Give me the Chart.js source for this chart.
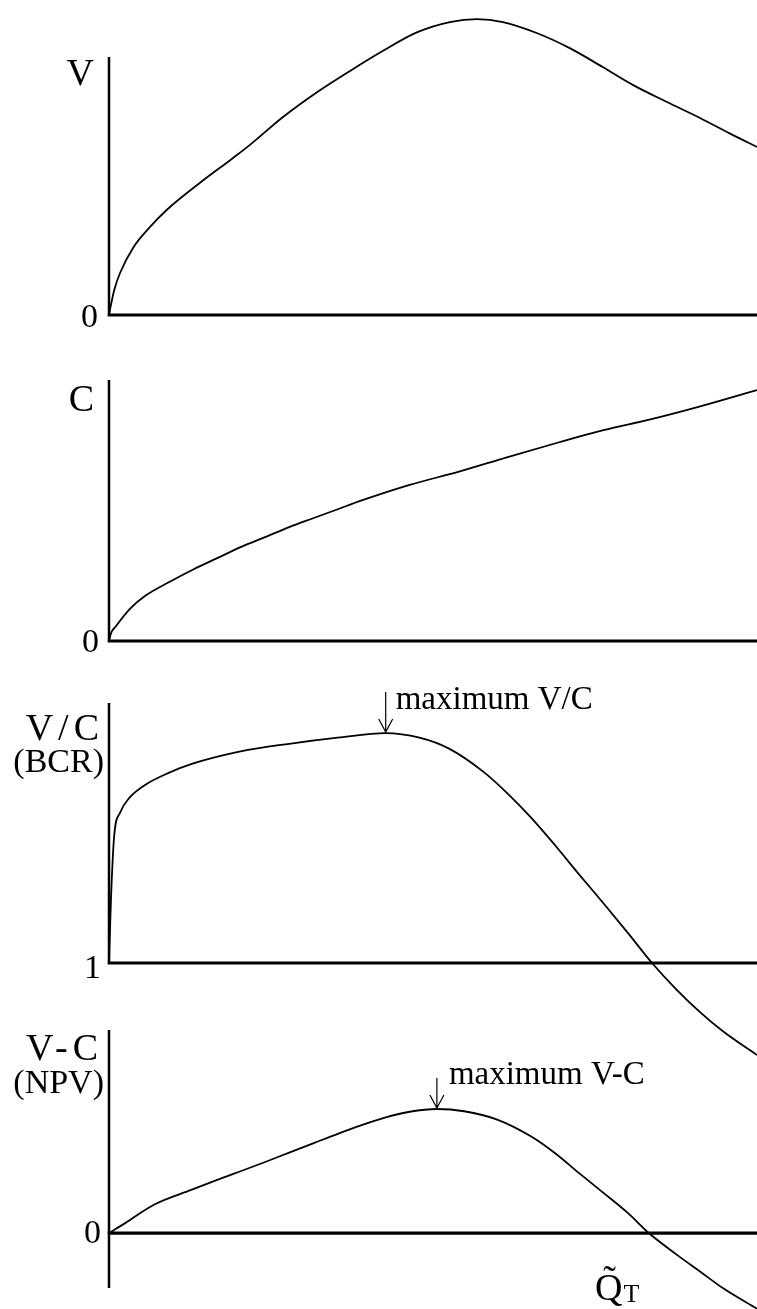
<!DOCTYPE html>
<html>
<head>
<meta charset="utf-8">
<script src="https://cdn.jsdelivr.net/npm/chart.js@4.4.1/dist/chart.umd.min.js"></script>
<style>
  html, body { margin: 0; padding: 0; background: #fff; }
  #stack { position: relative; width: 757px; height: 1309px; }
  #stack canvas { position: absolute; left: 0; top: 0; }
</style>
</head>
<body>
<div id="stack">
  <canvas id="chartV" width="757" height="1309"></canvas>
  <canvas id="chartC" width="757" height="1309"></canvas>
  <canvas id="chartBCR" width="757" height="1309"></canvas>
  <canvas id="chartNPV" width="757" height="1309"></canvas>
</div>
<script>
// Scheme size (0 = none, 100 = largest scheme considered)
// Benefit V
const xV = [0, 0.3, 0.8, 1.7, 3.8, 6.3, 8.9, 14.0, 19.1, 21.8, 26.9, 32.1, 37.2, 42.3, 47.5, 52.6, 56.8, 60.8, 66.0, 71.1, 76.2, 80.9, 86.1, 91.2, 96.3, 100];
const yV = [0, 3.4, 8.4, 14.2, 23.0, 29.7, 35.5, 44.6, 53.0, 57.6, 67.0, 75.3, 82.5, 89.3, 95.5, 99.0, 100, 99.0, 95.3, 90.2, 83.8, 77.7, 72.0, 66.6, 60.8, 56.8];

// Cost C
const xC = [0, 0.3, 1.1, 3.3, 5.6, 9.3, 13.0, 16.7, 20.4, 24.2, 27.9, 31.6, 35.3, 39.0, 46.4, 54.0, 61.4, 68.8, 76.3, 83.7, 91.1, 100];
const yC = [0, 3, 6, 13, 18, 23.5, 28.5, 33, 37.5, 41.5, 45.5, 49, 52.5, 56, 62.2, 67.5, 73.2, 78.7, 84.0, 88.4, 93.4, 100];

// Benefit-cost ratio V/C
const xBCR = [0, 0.3, 0.8, 1.7, 3.2, 5.5, 9.2, 12.9, 20.3, 27.8, 35.3, 42.7, 47.9, 52.4, 57.7, 61.4, 65.1, 68.8, 72.5, 76.4, 80.1, 83.8, 87.5, 91.2, 94.9, 100];
const yBCR = [1.00, 1.41, 1.83, 1.98, 2.08, 2.16, 2.24, 2.30, 2.38, 2.43, 2.47, 2.50, 2.47, 2.40, 2.25, 2.11, 1.95, 1.77, 1.58, 1.385, 1.195, 1.00, 0.83, 0.68, 0.55, 0.40];

// Net present value V-C
const xNPV = [0, 2.5, 7.0, 12.8, 16.5, 20.4, 24.2, 27.9, 31.6, 35.3, 39.0, 42.7, 46.4, 50.6, 54.8, 59.9, 65.1, 68.8, 72.5, 76.4, 80.1, 83.3, 87.5, 91.2, 94.9, 100];
const yNPV = [0, 8, 23, 35, 42.5, 50, 57.5, 65, 72.5, 80, 87, 93.3, 97.8, 100, 98.2, 91.5, 78, 64.5, 48.5, 32, 16, 0, -17, -31, -45, -61];

// Axis titles, baseline tick labels and markers
const titlesV = ['V'];
const titlesC = ['C'];
const titlesBCR = ['V/C', '(BCR)'];
const titlesNPV = ['V-C', '(NPV)'];
const baseTicks = ['0', '0', '1', '0'];
const baseValues = [0, 0, 1, 0];
const maxNoteBCR = 'maximum V/C';
const maxNoteNPV = 'maximum V-C';

const SERIF = '"Liberation Serif", "Times New Roman", serif';

function pts(xs, ys) { return xs.map((x, i) => ({ x: x, y: ys[i] })); }

// Draws the hand-sketched axes, titles, baseline tick and "maximum" marker
const sketchAxes = {
  id: 'sketchAxes',
  beforeDatasetsDraw(chart, args, o) {
    const ctx = chart.ctx;
    const sx = chart.scales.x, sy = chart.scales.y;
    const ax = sx.getPixelForValue(0);
    const by = sy.getPixelForValue(o.base);
    ctx.save();
    ctx.strokeStyle = '#000';
    ctx.fillStyle = '#000';
    // vertical axis
    ctx.lineWidth = 2.5;
    ctx.beginPath();
    ctx.moveTo(ax, sy.getPixelForValue(o.axisTop));
    ctx.lineTo(ax, sy.getPixelForValue(o.axisLow) + 1);
    ctx.stroke();
    // horizontal axis through the baseline value
    ctx.lineWidth = 3.2;
    ctx.beginPath();
    ctx.moveTo(ax - 1.2, by);
    ctx.lineTo(sx.getPixelForValue(100), by);
    ctx.stroke();

    const topY = sy.getPixelForValue(o.axisTop);
    // titles to the left of the axis
    ctx.textAlign = 'right';
    ctx.textBaseline = 'alphabetic';
    o.titles.forEach((t) => {
      ctx.font = t.size + 'px ' + SERIF;
      ctx.letterSpacing = (t.sp || 0) + 'px';
      ctx.fillText(t.text, ax - t.gap + (t.sp || 0), topY + t.dy);
    });
    ctx.letterSpacing = '0px';
    // baseline tick label
    ctx.font = '34px ' + SERIF;
    ctx.textBaseline = 'middle';
    ctx.fillText(o.tick, ax - o.tickGap, by + o.tickDy);

    // maximum marker: arrow down onto the highest point of the curve
    if (o.note) {
      const d = chart.data.datasets[0].data;
      let k = 0;
      d.forEach((p, i) => { if (p.y > d[k].y) k = i; });
      const px = sx.getPixelForValue(d[k].x);
      const tip = sy.getPixelForValue(d[k].y) - 1;
      ctx.lineWidth = 1.2;
      ctx.beginPath();
      ctx.moveTo(px, tip - o.arrowLen);
      ctx.lineTo(px, tip);
      ctx.moveTo(px - 7, tip - 13);
      ctx.lineTo(px, tip);
      ctx.lineTo(px + 7, tip - 13);
      ctx.stroke();
      ctx.textAlign = 'left';
      ctx.textBaseline = 'alphabetic';
      ctx.font = '33px ' + SERIF;
      ctx.fillText(o.note, px + o.noteGap, tip - o.noteRise);
    }

    // horizontal axis title (scheme size)
    if (o.xTitle) {
      const qx = sx.getPixelForValue(o.xTitle.at);
      ctx.textAlign = 'left';
      ctx.textBaseline = 'alphabetic';
      ctx.font = '38px ' + SERIF;
      ctx.fillText('Q\u0303', qx, 1300);
      const w = ctx.measureText('Q').width;
      ctx.font = '26px ' + SERIF;
      ctx.fillText('T', qx + w + 1, 1302);
    }
    ctx.restore();
  }
};

function makeChart(id, xs, ys, frame, axes) {
  new Chart(document.getElementById(id), {
    type: 'line',
    data: {
      datasets: [{
        data: pts(xs, ys),
        borderColor: '#000',
        borderWidth: 1.8,
        pointRadius: 0,
        fill: false,
        cubicInterpolationMode: 'monotone',
        clip: false
      }]
    },
    options: {
      responsive: false,
      animation: false,
      devicePixelRatio: 1,
      events: [],
      layout: { padding: { left: 109, right: 0, top: frame.top, bottom: 1309 - frame.bottom } },
      scales: {
        x: { type: 'linear', min: 0, max: 100, display: false },
        y: { type: 'linear', min: axes.yMin, max: axes.yMax, display: false }
      },
      plugins: {
        legend: { display: false },
        tooltip: { enabled: false },
        sketchAxes: axes
      }
    },
    plugins: [sketchAxes]
  });
}

makeChart('chartV', xV, yV, { top: 57, bottom: 315 }, {
  yMin: 0, yMax: 87.2, axisTop: 87.2, axisLow: 0, base: baseValues[0],
  titles: [{ text: titlesV[0], size: 38, gap: 15, dy: 28 }],
  tick: baseTicks[0], tickGap: 11, tickDy: 3
});

makeChart('chartC', xC, yC, { top: 380, bottom: 641 }, {
  yMin: 0, yMax: 104, axisTop: 104, axisLow: 0, base: baseValues[1],
  titles: [{ text: titlesC[0], size: 38, gap: 15, dy: 31 }],
  tick: baseTicks[1], tickGap: 10, tickDy: 2
});

makeChart('chartBCR', xBCR, yBCR, { top: 703, bottom: 963 }, {
  yMin: 1, yMax: 2.696, axisTop: 2.696, axisLow: 1, base: baseValues[2],
  titles: [
    { text: titlesBCR[0], size: 38, gap: 10, dy: 37, sp: 5 },
    { text: titlesBCR[1], size: 34, gap: 5, dy: 69 }
  ],
  tick: baseTicks[2], tickGap: 8, tickDy: 6,
  note: maxNoteBCR, arrowLen: 40, noteGap: 10, noteRise: 23
});

makeChart('chartNPV', xNPV, yNPV, { top: 1030, bottom: 1287 }, {
  yMin: -43.5, yMax: 163.7, axisTop: 163.7, axisLow: -43.5, base: baseValues[3],
  titles: [
    { text: titlesNPV[0], size: 38, gap: 11, dy: 30, sp: 5 },
    { text: titlesNPV[1], size: 34, gap: 5, dy: 63 }
  ],
  tick: baseTicks[3], tickGap: 8, tickDy: 1,
  note: maxNoteNPV, arrowLen: 30, noteGap: 12, noteRise: 24,
  xTitle: { at: 75 }
});
</script>
</body>
</html>
